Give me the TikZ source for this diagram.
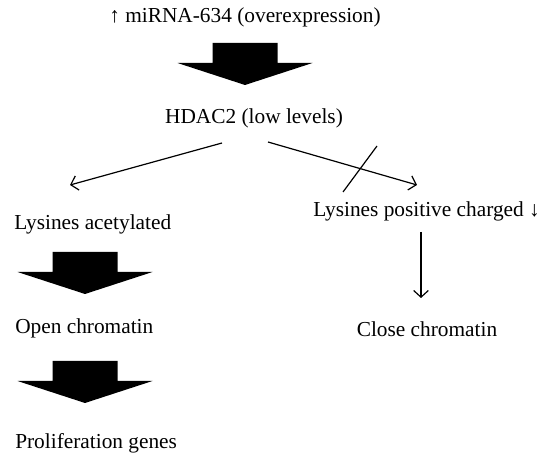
\documentclass[tikz,border=0pt]{standalone}
\usepackage{fontspec}
\setmainfont{Liberation Serif}
\usetikzlibrary{arrows.meta}

\tikzset{
  txt/.style={inner sep=0pt, font=\fontsize{16}{19}\selectfont},
  link/.style={line width=0.9pt, -{Straight Barb[length=5pt,width=11pt]}},
  bigarrow/.pic={
    \fill (-32.5,0) -- (32.5,0) -- (32.5,20) -- (67.5,20) -- (0,42)
      -- (-67.5,20) -- (-32.5,20) -- cycle;
  }
}

\begin{document}
\begin{tikzpicture}[x=0.75pt,y=-0.75pt]
\useasboundingbox (0,0) rectangle (554,466);

% Texts
\node[txt] (mir) at (245,17) {↑ miRNA-634 (overexpression)};
\node[txt] (hdac) at (254,118) {HDAC2 (low levels)};
\node[txt,anchor=west] (acet) at (14,224) {Lysines acetylated};
\node[txt,anchor=west] (posch) at (313,211) {Lysines positive charged ↓};
\node[txt,anchor=west] (open) at (15,328) {Open chromatin};
\node[txt] (close) at (427,329) {Close chromatin};
\node[txt,anchor=west] (prolif) at (15,443) {Proliferation genes};

% Block arrows
\pic at (245,43) {bigarrow};
\pic at (85,252) {bigarrow};
\pic at (85,361) {bigarrow};

% Branch ends
\coordinate (hl) at (222,143);
\coordinate (hr) at (268,142);
\coordinate (al) at (70,185);
\coordinate (ar) at (417,185);
\coordinate (cut1) at (343,192);
\coordinate (cut2) at (377,146);
\coordinate (pd1) at (421,232);
\coordinate (pd2) at (421,298);

% Thin arrows
\draw[link] (hl) -- (al);
\draw[link] (hr) -- (ar);
\draw[line width=0.9pt] (cut1) -- (cut2);
\draw[link] (pd1) -- (pd2);

\end{tikzpicture}
\end{document}
